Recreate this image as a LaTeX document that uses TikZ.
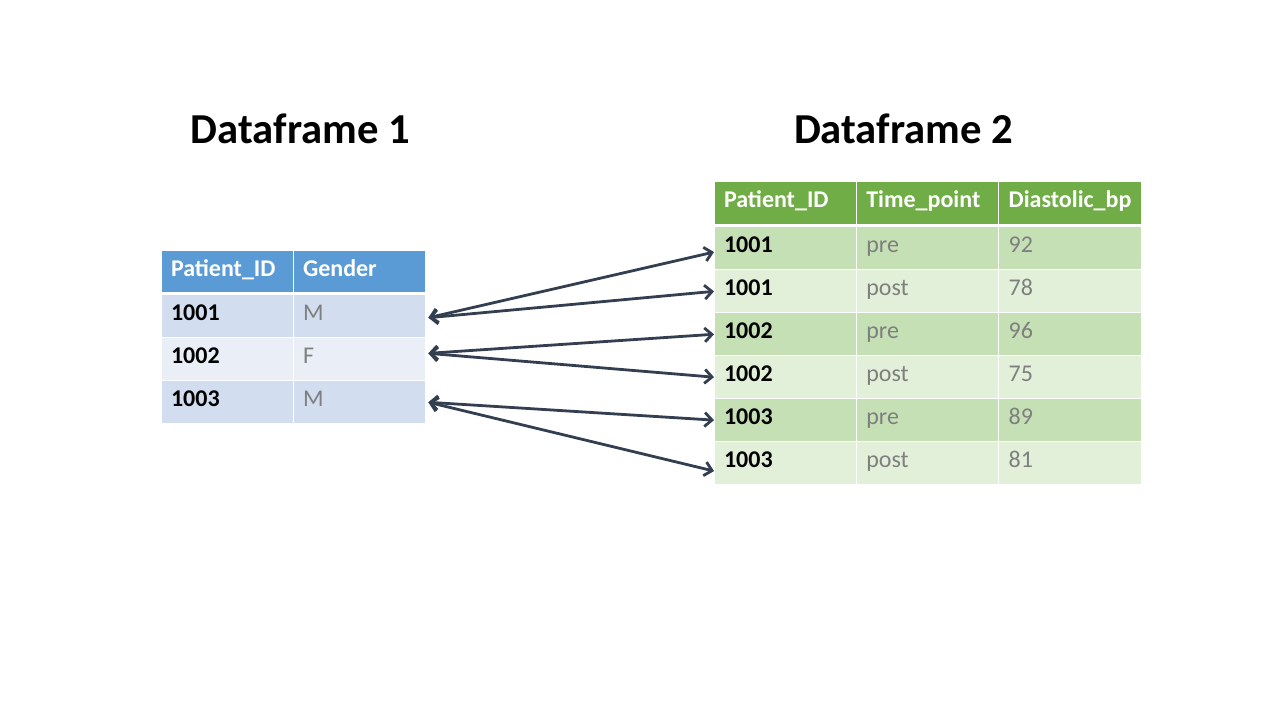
\documentclass[tikz,border=0pt]{standalone}
\usepackage{fontspec}
\setmainfont{Carlito}
\usetikzlibrary{positioning, arrows.meta}

\definecolor{hdrblue}{HTML}{5B9BD5}
\definecolor{blueodd}{HTML}{D2DEEF}
\definecolor{blueeven}{HTML}{EAEFF7}
\definecolor{hdrgreen}{HTML}{70AD47}
\definecolor{greenodd}{HTML}{C5E0B4}
\definecolor{greeneven}{HTML}{E2F0D9}
\definecolor{valgray}{HTML}{7F7F7F}
\definecolor{linkcol}{HTML}{333F50}

\begin{document}
\begin{tikzpicture}[
    x=0.75pt, y=-0.75pt,
    cell/.style = {draw=white, line width=0.75pt, outer sep=0pt, minimum height=32.2pt,
      inner xsep=7.5pt, inner ysep=0pt, text width=#1, align=left,
      text height=12.6pt, text depth=5.8pt, text=valgray,
      font=\fontsize{18pt}{22pt}\selectfont},
    cell/.default=84pt,
    headcell/.style = {text=white, font=\fontsize{18pt}{22pt}\selectfont\bfseries},
    idcell/.style = {text=black, font=\fontsize{18pt}{22pt}\selectfont\bfseries},
    dftitle/.style = {anchor=base, font=\fontsize{32pt}{38pt}\selectfont\bfseries},
    idlink/.style = {draw=linkcol, line width=2.1pt,
      {Straight Barb[length=5.5pt, width=10.5pt]}-{Straight Barb[length=5.5pt, width=10.5pt]}}
  ]

  \useasboundingbox (0,0) rectangle (1280,720);

  \node[dftitle] (title1) at (300.5,144) {Dataframe 1};
  \node[dftitle] (title2) at (903.5,144) {Dataframe 2};

  % left table
  \node[cell, headcell, fill=hdrblue, anchor=north west] (L-h1) at (161,250) {Patient\_ID};
  \node[cell, headcell, fill=hdrblue, right=0pt of L-h1] (L-h2) {Gender};
  \node[cell, idcell, fill=blueodd, below=1.5pt of L-h1] (L-id1) {1001};
  \node[cell, fill=blueodd, right=0pt of L-id1] (L-g1) {M};
  \node[cell, idcell, fill=blueeven, below=0pt of L-id1] (L-id2) {1002};
  \node[cell, fill=blueeven, right=0pt of L-id2] (L-g2) {F};
  \node[cell, idcell, fill=blueodd, below=0pt of L-id2] (L-id3) {1003};
  \node[cell, fill=blueodd, right=0pt of L-id3] (L-g3) {M};

  % right table
  \node[cell=91.75pt, headcell, fill=hdrgreen, anchor=north west] (R-h1) at (714,182) {Patient\_ID};
  \node[cell=91.75pt, headcell, fill=hdrgreen, right=0pt of R-h1] (R-h2) {Time\_point};
  \node[cell=91.75pt, headcell, fill=hdrgreen, right=0pt of R-h2] (R-h3) {Diastolic\_bp};

  \node[cell=91.75pt, idcell, fill=greenodd, below=1.5pt of R-h1] (R-id1) {1001};
  \node[cell=91.75pt, fill=greenodd, right=0pt of R-id1] (R-t1) {pre};
  \node[cell=91.75pt, fill=greenodd, right=0pt of R-t1] (R-bp1) {92};

  \node[cell=91.75pt, idcell, fill=greeneven, below=0pt of R-id1] (R-id2) {1001};
  \node[cell=91.75pt, fill=greeneven, right=0pt of R-id2] (R-t2) {post};
  \node[cell=91.75pt, fill=greeneven, right=0pt of R-t2] (R-bp2) {78};

  \node[cell=91.75pt, idcell, fill=greenodd, below=0pt of R-id2] (R-id3) {1002};
  \node[cell=91.75pt, fill=greenodd, right=0pt of R-id3] (R-t3) {pre};
  \node[cell=91.75pt, fill=greenodd, right=0pt of R-t3] (R-bp3) {96};

  \node[cell=91.75pt, idcell, fill=greeneven, below=0pt of R-id3] (R-id4) {1002};
  \node[cell=91.75pt, fill=greeneven, right=0pt of R-id4] (R-t4) {post};
  \node[cell=91.75pt, fill=greeneven, right=0pt of R-t4] (R-bp4) {75};

  \node[cell=91.75pt, idcell, fill=greenodd, below=0pt of R-id4] (R-id5) {1003};
  \node[cell=91.75pt, fill=greenodd, right=0pt of R-id5] (R-t5) {pre};
  \node[cell=91.75pt, fill=greenodd, right=0pt of R-t5] (R-bp5) {89};

  \node[cell=91.75pt, idcell, fill=greeneven, below=0pt of R-id5] (R-id6) {1003};
  \node[cell=91.75pt, fill=greeneven, right=0pt of R-id6] (R-t6) {post};
  \node[cell=91.75pt, fill=greeneven, right=0pt of R-t6] (R-bp6) {81};

  % links between matching ids
  \draw[idlink] ([xshift=2.5pt, yshift=-1pt]L-g1.east) -- ([yshift=-2.75pt]R-id1.west);
  \draw[idlink] ([xshift=2.5pt, yshift=-1pt]L-g1.east) -- (R-id2.west);
  \draw[idlink] ([xshift=2.5pt, yshift=4.5pt]L-g2.east) -- (R-id3.west);
  \draw[idlink] ([xshift=2.5pt, yshift=4.5pt]L-g2.east) -- (R-id4.west);
  \draw[idlink] ([xshift=2.5pt]L-g3.east) -- (R-id5.west);
  \draw[idlink] ([xshift=2.5pt]L-g3.east) -- ([yshift=-6pt]R-id6.west);

\end{tikzpicture}
\end{document}
